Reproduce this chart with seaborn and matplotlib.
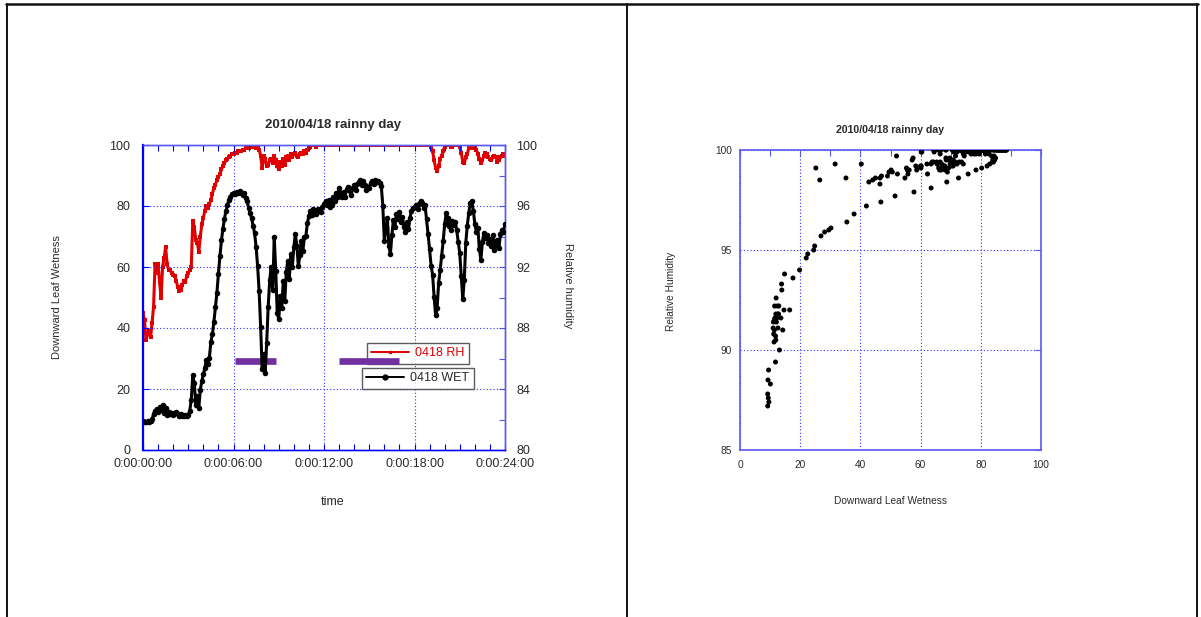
import numpy as np
import matplotlib
matplotlib.use("Agg")
import matplotlib.pyplot as plt
from matplotlib.lines import Line2D
from matplotlib.ticker import FixedLocator, MultipleLocator
import seaborn as sns

# ---- data -------------------------------------------------------------
hours = np.round(np.arange(0, 24.01, 0.1), 1)

# downward leaf wetness (0-100), one value every 0.1 h
wet = [
    9.5, 9.3, 9.2, 9.4, 9.2, 9.6, 10.1, 11.8, 12.9, 13.6,
    12.4, 14.2, 13.1, 14.6, 12.0, 13.8, 11.5, 12.6, 11.9, 12.2,
    11.4, 12.1, 12.6, 11.8, 11.3, 11.9, 11.2, 11.0, 11.4, 11.1,
    11.6, 12.8, 16.5, 24.5, 22.0, 14.8, 17.6, 13.9, 19.8, 22.5,
    24.8, 26.9, 29.5, 28.1, 30.2, 35.5, 37.9, 42.0, 46.8, 51.5,
    57.8, 63.5, 68.7, 72.6, 75.8, 78.4, 80.3, 82.1, 83.0, 83.9,
    84.2, 84.0, 84.6, 84.3, 84.9, 84.1, 83.6, 84.4, 82.7, 81.5,
    79.5, 77.8, 76.0, 73.5, 71.0, 66.5, 60.2, 52.0, 40.3, 26.5,
    31.6, 25.2, 35.2, 47.0, 55.6, 60.1, 52.3, 69.8, 58.7, 45.0,
    42.8, 50.6, 46.5, 55.3, 49.0, 58.4, 62.1, 56.2, 64.3, 60.0,
    66.5, 70.8, 67.0, 60.2, 63.8, 68.5, 65.4, 69.7, 70.2, 74.5,
    76.8, 78.4, 77.2, 78.9, 78.0, 77.4, 79.1, 78.3, 77.9, 79.6,
    80.8, 81.5, 80.2, 81.9, 79.7, 80.4, 82.8, 81.6, 84.3, 83.1,
    85.8, 84.2, 82.9, 84.7, 83.0, 85.5, 86.2, 84.8, 83.5, 86.0,
    86.8, 85.4, 87.2, 87.9, 88.4, 86.9, 88.1, 87.0, 85.2, 86.3,
    86.0, 87.7, 88.3, 87.1, 88.6, 87.9, 88.2, 87.4, 86.5, 80.0,
    68.5, 72.8, 76.0, 66.8, 64.3, 70.5, 75.4, 73.2, 77.3, 75.6,
    77.9, 74.8, 76.5, 73.1, 71.5, 74.6, 72.3, 76.2, 78.5, 79.4,
    79.6, 80.3, 79.0, 80.8, 81.7, 80.9, 79.5, 80.2, 75.6, 70.8,
    65.8, 60.4, 57.5, 50.2, 44.1, 46.5, 54.8, 58.9, 63.5, 68.4,
    74.0, 77.6, 76.2, 73.4, 72.1, 75.0, 73.8, 74.6, 72.0, 68.3,
    64.5, 57.2, 49.5, 55.8, 67.9, 73.6, 77.8, 80.9, 81.6, 78.4,
    74.2, 71.6, 72.8, 66.0, 62.3, 68.1, 71.2, 69.4, 70.5, 68.0,
    69.3, 66.8, 70.4, 65.5, 67.2, 68.9, 66.3, 70.8, 72.1, 71.5,
    74.2,
]

# relative humidity (%), same time stamps
rh = [
    89.0, 88.5, 87.2, 87.6, 87.8, 87.4, 88.3, 89.4, 92.2, 91.6,
    92.2, 91.0, 90.0, 92.0, 92.6, 93.3, 92.2, 91.8, 91.8, 91.6,
    91.5, 91.4, 91.1, 90.7, 90.4, 90.5, 90.8, 91.1, 91.0, 91.4,
    91.6, 91.8, 92.0, 95.0, 94.6, 93.8, 93.6, 93.0, 94.0, 94.8,
    95.2, 95.7, 96.0, 95.9, 96.1, 96.4, 96.8, 97.2, 97.4, 97.7,
    97.9, 98.1, 98.4, 98.6, 98.8, 99.0, 99.1, 99.2, 99.3, 99.4,
    99.4, 99.5, 99.5, 99.6, 99.6, 99.6, 99.7, 99.7, 99.8, 99.8,
    99.8, 99.9, 99.9, 100.0, 99.9, 99.8, 99.9, 99.7, 99.3, 98.5,
    99.3, 99.1, 98.6, 98.7, 99.0, 99.1, 98.8, 99.3, 99.0, 98.6,
    98.4, 98.9, 98.6, 99.1, 98.7, 99.2, 99.3, 99.0, 99.4, 99.2,
    99.4, 99.5, 99.3, 99.2, 99.4, 99.5, 99.4, 99.6, 99.5, 99.7,
    99.8, 99.9, 100.0, 100.0, 100.0, 99.9, 100.0, 100.0, 100.0, 100.0,
    100.0, 100.0, 100.0, 100.0, 100.0, 100.0, 100.0, 100.0, 100.0, 100.0,
    100.0, 100.0, 100.0, 100.0, 100.0, 100.0, 100.0, 100.0, 100.0, 100.0,
    100.0, 100.0, 100.0, 100.0, 100.0, 100.0, 100.0, 100.0, 100.0, 100.0,
    100.0, 100.0, 100.0, 100.0, 100.0, 100.0, 100.0, 100.0, 100.0, 100.0,
    100.0, 100.0, 100.0, 100.0, 100.0, 100.0, 100.0, 100.0, 100.0, 100.0,
    100.0, 100.0, 100.0, 100.0, 100.0, 100.0, 100.0, 100.0, 100.0, 100.0,
    100.0, 100.0, 100.0, 100.0, 100.0, 100.0, 100.0, 100.0, 100.0, 100.0,
    100.0, 99.9, 99.6, 99.0, 98.5, 98.3, 98.6, 99.1, 99.3, 99.6,
    99.9, 100.0, 100.0, 100.0, 99.9, 99.9, 100.0, 100.0, 100.0, 100.0,
    99.9, 99.5, 98.9, 98.8, 99.2, 99.4, 99.8, 100.0, 100.0, 99.8,
    99.8, 99.7, 99.4, 99.1, 98.8, 99.0, 99.3, 99.5, 99.4, 99.2,
    99.1, 99.0, 99.2, 99.3, 99.2, 98.9, 99.0, 99.2, 99.3, 99.4,
    99.3,
]

# rain periods (h) shown as bars on the wetness scale
rain_start = [6.1, 13.0]
rain_end = [8.85, 16.95]
rain_level = 29.2

time_ticks = [0, 6, 12, 18, 24]
time_labels = ["0:00:00:00", "0:00:06:00", "0:00:12:00", "0:00:18:00", "0:00:24:00"]
title = "2010/04/18 rainny day"

# ---- style ------------------------------------------------------------
sns.set_style("white")
plt.rcParams["font.family"] = ["Liberation Sans", "DejaVu Sans"]

W, H = 1201, 617
fig = plt.figure(figsize=(W / 100, H / 100), dpi=100)
fig.patch.set_facecolor("white")

BLUE = "#0000ff"
LBLUE = "#5a5af0"
TXT = "#2a2a2a"
GRID = dict(color="#3030ff", linestyle=(0, (1, 2)), linewidth=0.8)


def px_axes(x0, y0, x1, y1):
    return fig.add_axes([x0 / W, 1 - y1 / H, (x1 - x0) / W, (y1 - y0) / H])


# ---- left: time series -----------------------------------------------
ax = px_axes(143, 145, 505, 450)
ax2 = ax.twinx()
ax.set_zorder(ax2.get_zorder() + 1)
ax.patch.set_visible(False)

sns.lineplot(x=hours, y=rh, ax=ax2, color="#e00000", linewidth=2.2,
             marker="s", markersize=2.4, markeredgewidth=0,
             estimator=None, sort=False, legend=False)
sns.lineplot(x=hours, y=wet, ax=ax, color="black", linewidth=2.2,
             marker="o", markersize=4.0, markeredgewidth=0,
             estimator=None, sort=False, legend=False, zorder=7)
ax.hlines([rain_level] * len(rain_start), rain_start, rain_end,
          color="#7030a0", linewidth=4.8, zorder=6)

ax.set_xlim(0, 24)
ax.set_ylim(0, 100)
ax2.set_ylim(80, 100)
ax.xaxis.set_major_locator(FixedLocator(time_ticks))
ax.set_xticklabels(time_labels)
ax.xaxis.set_minor_locator(MultipleLocator(1))
ax.yaxis.set_major_locator(MultipleLocator(20))
ax2.yaxis.set_major_locator(MultipleLocator(4))
ax2.yaxis.set_minor_locator(MultipleLocator(2))
ax.grid(True, which="major", **GRID)

ax.tick_params(axis="x", which="both", direction="in", top=True, bottom=True,
               color=BLUE, labelsize=9, labelcolor=TXT, pad=6)
ax.tick_params(axis="x", which="major", length=4, width=0.8)
ax.tick_params(axis="x", which="minor", length=4, width=0.8)
ax.tick_params(axis="y", which="major", direction="in", left=True, right=False,
               color=BLUE, length=4, width=0.8, labelsize=9, labelcolor=TXT, pad=9)
ax2.tick_params(axis="y", which="both", direction="in", right=True,
                color=LBLUE, length=4, width=0.8, labelsize=9, labelcolor=TXT, pad=8)

for a in (ax, ax2):
    for s in a.spines.values():
        s.set_color(LBLUE)
        s.set_linewidth(1.0)
ax.spines["left"].set_color(BLUE)
ax.spines["left"].set_linewidth(1.6)
ax.spines["bottom"].set_color(BLUE)
ax2.spines["left"].set_visible(False)

ax.set_xlabel("time", fontsize=9, color=TXT)
ax.xaxis.set_label_coords(0.525, -0.151)
ax.set_ylabel("Downward Leaf Wetness", fontsize=8, color=TXT)
ax.yaxis.set_label_coords(-0.224, 0.5)
ax2.set_ylabel("Relative humidity", fontsize=8, color=TXT, rotation=270, va="center")
ax2.yaxis.set_label_coords(1.174, 0.54)
ax.text(0.525, 1.066, title, transform=ax.transAxes, ha="center", va="center",
        fontsize=9.5, fontweight="bold", color=TXT)

h_rh = Line2D([], [], color="#e00000", linewidth=1.4, marker="s", markersize=2)
h_wet = Line2D([], [], color="black", linewidth=1.4, marker="o", markersize=3.5)
leg_kw = dict(frameon=True, fancybox=False, fontsize=9, handlelength=3.0,
              handletextpad=0.5, borderpad=0.35, borderaxespad=0,
              loc="upper left", bbox_transform=fig.transFigure)
leg1 = ax.legend([h_rh], ["0418 RH"], bbox_to_anchor=(367 / W, 1 - 343 / H), **leg_kw)
leg1.get_frame().set_edgecolor("#333333")
leg1.get_frame().set_linewidth(1.0)
leg1.get_texts()[0].set_color("#e00000")
leg1.set_zorder(5)
ax.add_artist(leg1)
leg2 = ax.legend([h_wet], ["0418 WET"], bbox_to_anchor=(362 / W, 1 - 368 / H), **leg_kw)
leg2.get_frame().set_edgecolor("#333333")
leg2.get_frame().set_linewidth(1.0)
leg2.get_texts()[0].set_color(TXT)
leg2.set_zorder(5)

# ---- right: wetness vs humidity --------------------------------------
ax3 = px_axes(740, 150, 1041, 450)
sns.scatterplot(x=wet, y=rh, ax=ax3, color="black", s=13, linewidth=0,
                edgecolor="none", legend=False, zorder=3)
ax3.set_xlim(0, 100)
ax3.set_ylim(85, 100)
ax3.xaxis.set_major_locator(MultipleLocator(20))
ax3.xaxis.set_minor_locator(MultipleLocator(10))
ax3.yaxis.set_major_locator(MultipleLocator(5))
ax3.grid(True, which="major", **GRID)
ax3.tick_params(axis="both", which="both", direction="in", top=True, right=True,
                color=LBLUE, width=0.8, labelsize=7.3, labelcolor=TXT)
ax3.tick_params(axis="both", which="major", length=4)
ax3.tick_params(axis="both", which="minor", length=4)
ax3.tick_params(axis="x", pad=7)
ax3.tick_params(axis="y", pad=6)
for s in ax3.spines.values():
    s.set_color(LBLUE)
    s.set_linewidth(1.2)
ax3.set_xlabel("Downward Leaf Wetness", fontsize=7.3, color=TXT)
ax3.xaxis.set_label_coords(0.5, -0.153)
ax3.set_ylabel("Relative Humidity", fontsize=7.3, color=TXT)
ax3.yaxis.set_label_coords(-0.213, 0.53)
ax3.text(0.5, 1.067, title, transform=ax3.transAxes, ha="center", va="center",
         fontsize=7.6, fontweight="bold", color=TXT)

# ---- page frame ------------------------------------------------------
top = 1 - 4 / H
fig.add_artist(Line2D([6 / W, 1198 / W], [top, top], transform=fig.transFigure,
                      color="#111111", linewidth=1.8))
for xp in (7, 627, 1197):
    fig.add_artist(Line2D([xp / W, xp / W], [0, top], transform=fig.transFigure,
                          color="#111111", linewidth=1.4))

fig.savefig("out.png", dpi=100, facecolor="white")
